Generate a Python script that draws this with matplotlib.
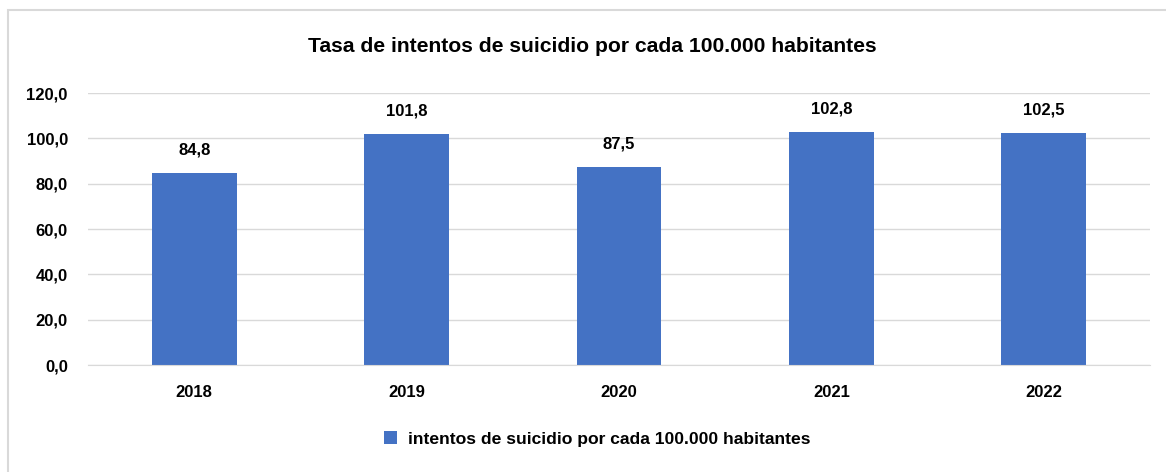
import matplotlib.pyplot as plt
from matplotlib.patches import Rectangle

years = ['2018', '2019', '2020', '2021', '2022']
tasa = [84.8, 101.8, 87.5, 102.8, 102.5]
serie = 'intentos de suicidio por cada 100.000 habitantes'
titulo = 'Tasa de intentos de suicidio por cada 100.000 habitantes'

plt.rcParams['font.family'] = ['Liberation Sans', 'DejaVu Sans']
plt.rcParams['font.weight'] = 'bold'

fig = plt.figure(figsize=(11.66, 4.72), dpi=100)
ax = fig.add_axes([88 / 1166, 1 - 365 / 472, (1150 - 88) / 1166, (365 - 93) / 472])

x = range(len(years))
bars = ax.bar(x, tasa, width=0.4, color='#4472C4', label=serie, zorder=2)

for xi, v in zip(x, tasa):
    ax.annotate(f'{v:.1f}'.replace('.', ','), (xi, v), xytext=(0, 11),
                textcoords='offset points', ha='center', va='bottom',
                fontsize=12, fontweight='bold')

ax.set_xlim(-0.5, 4.5)
ax.set_ylim(0, 120)
ax.set_yticks(range(0, 121, 20))
ax.set_yticklabels([f'{t:.1f}'.replace('.', ',') for t in range(0, 121, 20)])
ax.set_xticks(list(x))
ax.set_xticklabels(years)
ax.tick_params(axis='both', length=0, labelsize=12)
ax.tick_params(axis='y', pad=14.5)
ax.tick_params(axis='x', pad=14.5)
ax.grid(axis='y', color='#d9d9d9', linewidth=1, zorder=0)
for s in ['top', 'right', 'left']:
    ax.spines[s].set_visible(False)
ax.spines['bottom'].set_color('#d9d9d9')

fig.text(0.508, 1 - 47 / 472, titulo, ha='center', va='center',
         fontsize=15.2, fontweight='bold')

fig.legend(handles=[bars], labels=[serie], loc='center',
           bbox_to_anchor=(0.512, 1 - 439 / 472), frameon=False,
           fontsize=12.6, handlelength=0.75, handleheight=0.75, handletextpad=0.6)

fig.patches.append(Rectangle((8 / 1166, -0.1), 1.1, 1 - 10 / 472 + 0.1,
                             transform=fig.transFigure, fill=False,
                             edgecolor='#d9d9d9', linewidth=1.5))

fig.savefig('out.png', dpi=100)
